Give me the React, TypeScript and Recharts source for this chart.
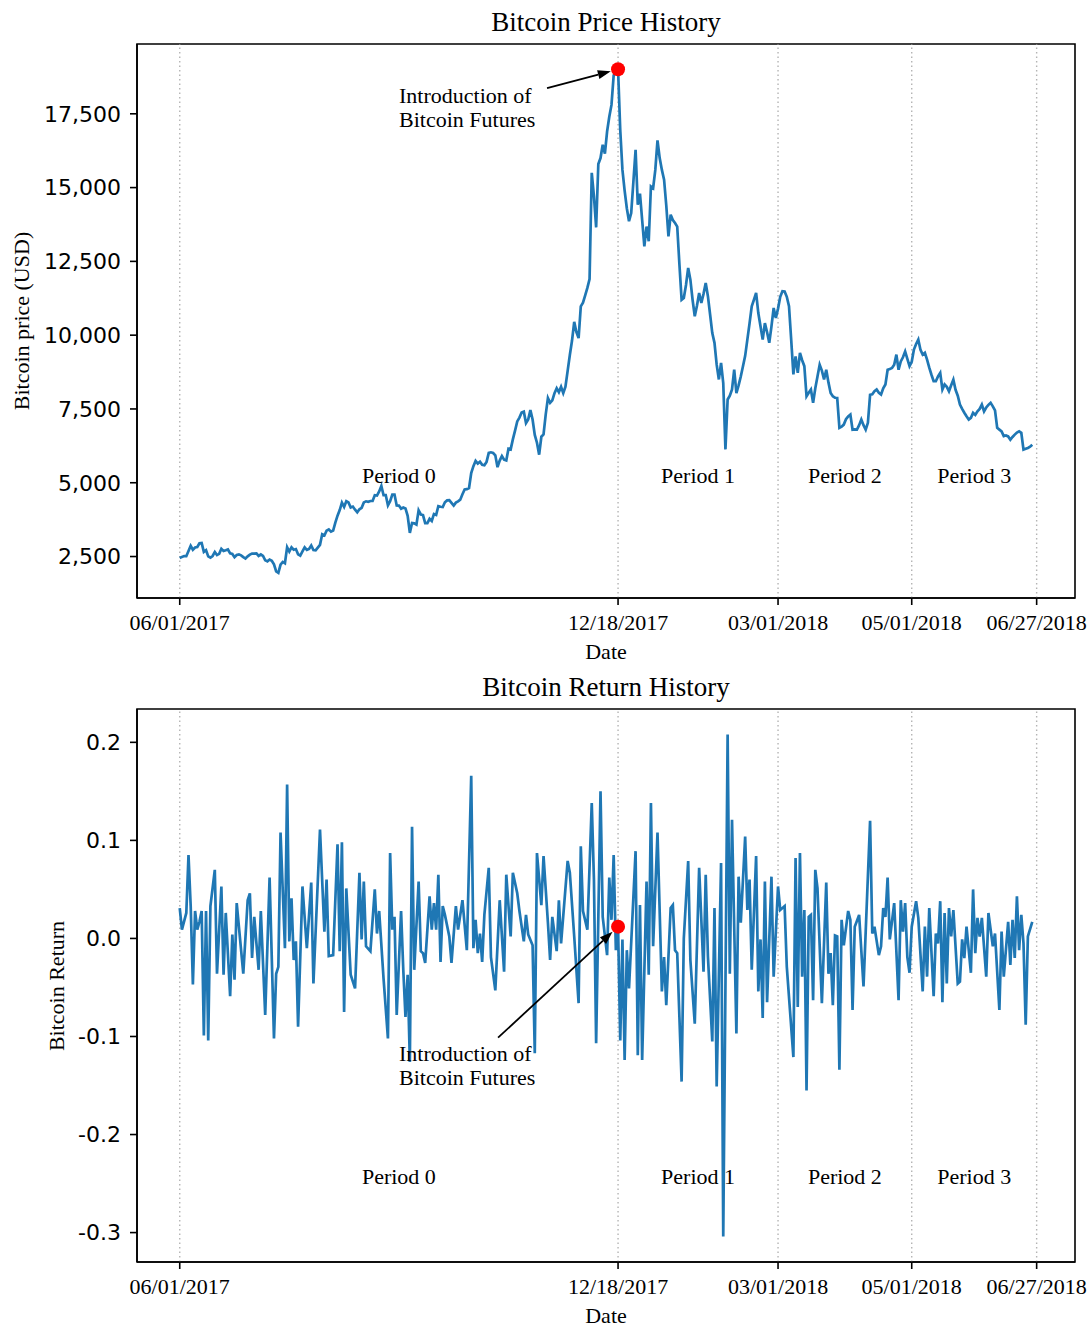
import React from 'react';
import { LineChart, Line, XAxis, YAxis, ReferenceLine, ReferenceDot, ReferenceArea } from 'recharts';

const SERIF = '"Liberation Serif", "Times New Roman", serif';
const SANS = '"DejaVu Sans", sans-serif';

// Daily closing price, day 0 = 06/01/2017
const PRICES = [
  2450, 2488, 2515, 2511, 2686, 2863, 2732, 2805, 2823, 2947,
  2958, 2659, 2717, 2506, 2464, 2518, 2655, 2549, 2590, 2761,
  2691, 2710, 2739, 2608, 2589, 2478, 2552, 2574, 2539, 2481,
  2434, 2507, 2564, 2601, 2601, 2608, 2519, 2571, 2518, 2373,
  2337, 2398, 2358, 2233, 1998, 1950, 2228, 2318, 2273, 2817,
  2667, 2810, 2731, 2754, 2576, 2529, 2671, 2809, 2726, 2757,
  2875, 2718, 2710, 2804, 2895, 3252, 3213, 3378, 3419, 3342,
  3381, 3650, 3884, 4073, 4325, 4182, 4376, 4331, 4160, 4193,
  4087, 4001, 4100, 4151, 4334, 4371, 4352, 4382, 4382, 4579,
  4565, 4703, 4892, 4578, 4582, 4236, 4376, 4597, 4599, 4228,
  4226, 4122, 4162, 4130, 3882, 3300, 3637, 3625, 3582, 4065,
  3924, 3905, 3631, 3631, 3776, 3703, 3942, 3910, 4208, 4185,
  4174, 4338, 4403, 4409, 4317, 4229, 4328, 4370, 4426, 4610,
  4772, 4782, 4819, 5325, 5563, 5739, 5648, 5711, 5605, 5590,
  5708, 6011, 6031, 6008, 5930, 5527, 5750, 5904, 5780, 5753,
  6154, 6130, 6468, 6767, 7078, 7207, 7379, 7407, 7022, 7144,
  7459, 7143, 6618, 6357, 5950, 6559, 6635, 7315, 7871, 7708,
  7790, 8036, 8200, 8071, 8253, 8038, 8253, 8790, 9330, 9818,
  10450, 10100, 9900, 10975, 11100, 11350, 11600, 11900, 15500, 14700,
  13650, 15800, 16000, 16450, 16150, 16900, 17400, 17800, 18800, 18950,
  19010, 16950, 15600, 14900, 14300, 13860, 14140, 15200, 16280, 14420,
  14800, 13900, 13010, 13680, 13180, 15040, 14980, 15600, 16600, 16000,
  15600, 15270, 14400, 13350, 14080, 13900, 13800, 13680, 12400, 11200,
  11260, 11700, 12280, 11880, 11200, 10640, 11000, 11430, 11090, 11400,
  11770, 11320, 10700, 10070, 9740, 9000, 8500, 9060, 8380, 6130,
  7820, 7950, 8160, 8830, 8040, 8300, 8600, 8950, 9300, 9850,
  10400, 10980, 11200, 11430, 10750, 10300, 9850, 10410, 10100, 9740,
  10300, 10920, 10580, 10900, 11300, 11490, 11480, 11300, 10980, 9850,
  8670, 9280, 8720, 9400, 9150, 8950, 7930, 8050, 8160, 7710,
  8200, 8600, 9000, 8800, 8500, 8830, 8400, 8040, 7930, 7880,
  7870, 6860, 6900, 6970, 7150, 7250, 7310, 6800, 6810, 6800,
  6950, 7140, 6950, 6800, 7030, 7980, 8000, 8100, 8160, 8050,
  7990, 8200, 8330, 8830, 8850, 8890, 9000, 9340, 8830, 9110,
  9250, 9450, 9200, 8950, 9100, 9510, 9700, 9850, 9500, 9340,
  9400, 9170, 8900, 8660, 8440, 8440, 8600, 8720, 8160, 8330,
  8250, 8100, 8300, 8490, 8150, 7950, 7650, 7500, 7370, 7250,
  7140, 7200, 7370, 7300, 7420, 7500, 7650, 7420, 7550, 7640,
  7710, 7590, 7450, 6860, 6800, 6740, 6580, 6600, 6570, 6460,
  6550, 6630, 6700, 6740, 6690, 6120, 6150, 6180, 6220, 6290,
];

// Daily return (day index, value)
const RETURN_DAYS = [
  0, 1, 3, 4, 5, 6, 7, 8, 9, 10, 11, 12, 13, 14, 16, 17, 19, 20, 21, 23,
  24, 25, 26, 29, 31, 32, 33, 34, 36, 37, 39, 41, 43, 44, 45, 46, 48, 49, 50, 51,
  52, 53, 54, 56, 58, 60, 61, 64, 66, 67, 68, 70, 72, 73, 74, 75, 76, 78, 80, 82,
  83, 84, 85, 87, 89, 90, 91, 93, 95, 96, 97, 98, 99, 101, 102, 103, 104, 105, 106, 107,
  109, 110, 111, 112, 114, 115, 116, 117, 118, 119, 120, 121, 123, 124, 126, 127, 129, 131, 133, 134,
  135, 136, 137, 138, 139, 141, 142, 144, 146, 148, 149, 151, 152, 154, 155, 157, 158, 159, 161, 162,
  163, 165, 166, 168, 169, 170, 172, 173, 174, 177, 178, 180, 182, 183, 184, 186, 188, 189, 190, 192,
  193, 195, 196, 197, 198, 199, 200, 201, 202, 203, 204, 205, 208, 209, 210, 211, 213, 214, 215, 216,
  218, 220, 221, 222, 224, 225, 226, 227, 229, 230, 232, 233, 235, 237, 239, 240, 241, 243, 244, 245,
  247, 248, 250, 251, 252, 254, 255, 256, 258, 259, 260, 261, 263, 264, 265, 266, 267, 268, 270, 271,
  273, 274, 276, 277, 280, 281, 282, 283, 284, 285, 286, 287, 288, 289, 290, 291, 293, 295, 296, 297,
  298, 299, 300, 301, 302, 303, 305, 306, 307, 308, 310, 312, 313, 315, 316, 317, 319, 320, 321, 322,
  323, 324, 326, 328, 329, 330, 331, 332, 333, 334, 336, 337, 339, 340, 341, 342, 344, 345, 346, 347,
  348, 349, 350, 351, 352, 353, 355, 356, 357, 358, 359, 361, 362, 363, 364, 365, 366, 368, 369, 371,
  372, 374, 375, 376, 378, 379, 380, 381, 382, 383, 384, 385, 386, 387, 389,
];
const RETURN_VALUES = [
  0.031, 0.009, 0.026, 0.085, 0.033, -0.047, 0.028, 0.009, 0.017, 0.028, -0.099, 0.028, -0.104, 0.033, 0.07, -0.036, 0.053, -0.037, 0.026, -0.059,
  0.004, -0.042, 0.036, -0.036, 0.039, 0.046, -0.02, 0.022, -0.032, 0.028, -0.078, 0.062, -0.102, -0.036, -0.029, 0.108, -0.01, 0.157, -0.003, 0.041,
  -0.022, -0.003, -0.09, 0.053, -0.01, 0.057, -0.046, 0.111, 0.007, 0.06, -0.018, -0.017, 0.096, -0.013, 0.098, -0.075, 0.051, -0.037, -0.051, 0.067,
  -0.001, 0.058, -0.008, -0.013, 0.05, 0.005, 0.028, -0.041, -0.102, 0.087, 0.009, 0.022, -0.078, 0.028, -0.032, -0.08, -0.037, -0.126, 0.114, -0.032,
  0.058, -0.013, -0.015, -0.025, 0.043, 0.009, 0.036, 0.009, 0.065, -0.024, 0.033, 0.024, 0.002, -0.025, 0.033, 0.009, 0.039, -0.012, 0.166, -0.01,
  0.019, -0.015, 0.005, -0.024, 0.024, 0.072, -0.019, -0.053, 0.039, -0.034, 0.065, 0.002, 0.067, 0.046, 0.028, -0.003, 0.024, 0.004, -0.007, -0.117,
  0.087, 0.034, 0.084, 0.016, -0.022, 0.022, -0.013, 0.039, -0.005, 0.079, 0.067, 0.002, -0.066, 0.094, 0.028, 0.009, 0.138, 0.06, -0.107, 0.15,
  0.022, -0.017, 0.062, 0.019, 0.085, -0.012, 0.012, -0.104, -0.001, -0.124, -0.012, -0.051, 0.089, -0.119, 0.034, -0.124, 0.058, -0.037, 0.138, -0.008,
  0.108, -0.054, -0.019, -0.068, 0.031, 0.034, -0.012, -0.015, -0.146, 0.0, 0.079, -0.022, -0.087, 0.072, -0.034, 0.065, -0.018, -0.105, 0.031, -0.151,
  0.077, -0.304, 0.208, -0.036, 0.121, -0.097, 0.063, 0.016, 0.104, 0.029, 0.06, -0.032, 0.084, -0.054, -0.001, -0.081, 0.058, -0.065, 0.063, -0.039,
  0.053, 0.029, 0.033, -0.029, -0.121, 0.082, -0.07, 0.087, -0.039, 0.029, -0.155, 0.022, 0.024, -0.063, 0.07, 0.051, -0.066, 0.057, -0.036, -0.015,
  -0.068, 0.003, 0.002, -0.134, 0.019, -0.007, 0.028, 0.019, -0.073, 0.012, 0.024, -0.049, 0.007, 0.12, 0.005, 0.012, -0.017, -0.008, 0.031, 0.022,
  0.062, -0.001, 0.036, -0.063, 0.039, 0.007, 0.036, -0.019, -0.035, 0.012, 0.038, 0.021, -0.054, 0.012, -0.039, 0.031, -0.059, 0.005, -0.005, 0.038,
  -0.065, 0.026, -0.046, 0.031, 0.002, 0.029, -0.046, -0.044, -0.001, -0.02, 0.012, -0.035, 0.05, -0.015, 0.021, 0.002, 0.021, -0.039, 0.026, -0.008,
  0.005, -0.073, 0.007, -0.039, 0.017, -0.027, 0.019, -0.02, 0.043, -0.012, 0.024, -0.005, -0.088, 0.002, 0.017,
];

const DATE_TICK_DAYS = [0, 200, 273, 334, 391];
const DATE_TICK_LABELS = ['06/01/2017', '12/18/2017', '03/01/2018', '05/01/2018', '06/27/2018'];
const PRICE_TICKS = [2500, 5000, 7500, 10000, 12500, 15000, 17500];
const RETURN_TICKS = [-0.3, -0.2, -0.1, 0, 0.1, 0.2];
const PERIOD_NAMES = ['Period 0', 'Period 1', 'Period 2', 'Period 3'];
const PERIOD_CENTER_DAYS = [100, 236.5, 303.5, 362.5];
const PERIOD_PRICE_LEVEL = 5000;
const PERIOD_RETURN_LEVEL = -0.25;
const FUTURES_DAY = 200;
const FUTURES_PRICE = 19010;
const FUTURES_RETURN = 0.012;

const X_DOMAIN: [number, number] = [-19.5, 408.5];
const PRICE_DOMAIN: [number, number] = [1095, 19865];
const RETURN_DOMAIN: [number, number] = [-0.33, 0.234];

const priceTable = PRICES.map((p, i) => ({ day: i, price: p }));
const returnTable = RETURN_DAYS.map((d, i) => ({ day: d, ret: RETURN_VALUES[i] }));

const LINE_COLOR = '#1f77b4';
const W = 1092;
const H1 = 665;
const H2 = 664;
const MARGIN = { top: 44, right: 17, bottom: 37, left: 57 };

const fmtDate = (v: number) => {
  const i = DATE_TICK_DAYS.indexOf(v);
  return i >= 0 ? DATE_TICK_LABELS[i] : '';
};
const fmtPrice = (v: number) => v.toLocaleString('en-US');
const fmtRet = (v: number) => (Math.abs(v) < 1e-9 ? '0.0' : v.toFixed(1));

const periodShape = (name: string) => (p: any) => (
  <text x={p.cx} y={p.cy} textAnchor="middle" fontFamily={SERIF} fontSize={22} fill="#000">
    {name}
  </text>
);

const futuresShape = (textDx: number, textDy: number, tailDx: number, tailDy: number) => (p: any) => {
  const cx = p.cx;
  const cy = p.cy;
  const tx = cx + tailDx;
  const ty = cy + tailDy;
  const ang = Math.atan2(cy - ty, cx - tx);
  const tipX = cx - Math.cos(ang) * 7.5;
  const tipY = cy - Math.sin(ang) * 7.5;
  const headLen = 13;
  const headW = 4.5;
  const bx = tipX - Math.cos(ang) * headLen;
  const by = tipY - Math.sin(ang) * headLen;
  const px = -Math.sin(ang) * headW;
  const py = Math.cos(ang) * headW;
  return (
    <g>
      <line x1={tx} y1={ty} x2={bx} y2={by} stroke="#000" strokeWidth={1.8} />
      <polygon points={`${tipX},${tipY} ${bx + px},${by + py} ${bx - px},${by - py}`} fill="#000" />
      <circle cx={cx} cy={cy} r={7} fill="#ff0000" />
      <text x={cx + textDx} y={cy + textDy} fontFamily={SERIF} fontSize={22} fill="#000">
        <tspan x={cx + textDx}>Introduction of</tspan>
        <tspan x={cx + textDx} dy={24}>Bitcoin Futures</tspan>
      </text>
    </g>
  );
};

const axisLine = { stroke: '#000', strokeWidth: 1.6 };
const tickLine = { stroke: '#000', strokeWidth: 1.6 };

function Panel(props: {
  height: number;
  data: any[];
  dataKey: string;
  yDomain: [number, number];
  yTicks: number[];
  yFmt: (v: number) => string;
  periodLevel: number;
  futuresValue: number;
  futures: (p: any) => any;
}) {
  const { height, data, dataKey, yDomain, yTicks, yFmt, periodLevel, futuresValue, futures } = props;
  return (
    <LineChart width={W} height={height} data={data} margin={MARGIN}>
      <XAxis
        dataKey="day"
        type="number"
        domain={X_DOMAIN}
        allowDataOverflow
        ticks={DATE_TICK_DAYS}
        interval={0}
        tickFormatter={fmtDate}
        height={30}
        tickSize={7}
        tickMargin={9}
        axisLine={axisLine}
        tickLine={tickLine}
        tick={{ fontFamily: SERIF, fontSize: 22, fill: '#000' }}
      />
      <YAxis
        type="number"
        domain={yDomain}
        allowDataOverflow
        ticks={yTicks}
        interval={0}
        tickFormatter={yFmt}
        width={80}
        tickSize={7}
        tickMargin={9}
        axisLine={axisLine}
        tickLine={tickLine}
        tick={{ fontFamily: SANS, fontSize: 22, fill: '#000' }}
      />
      {DATE_TICK_DAYS.map((d) => (
        <ReferenceLine key={d} x={d} stroke="#b4b4b4" strokeWidth={1.4} strokeDasharray="1.5 3" />
      ))}
      <Line
        type="linear"
        dataKey={dataKey}
        stroke={LINE_COLOR}
        strokeWidth={2.7}
        dot={false}
        activeDot={false}
        isAnimationActive={false}
      />
      <ReferenceArea
        x1={X_DOMAIN[0]}
        x2={X_DOMAIN[1]}
        y1={yDomain[0]}
        y2={yDomain[1]}
        fill="none"
        fillOpacity={0}
        stroke="#000"
        strokeWidth={1.6}
        ifOverflow="visible"
      />
      {PERIOD_NAMES.map((n, i) => (
        <ReferenceDot key={n} x={PERIOD_CENTER_DAYS[i]} y={periodLevel} r={1} shape={periodShape(n)} />
      ))}
      <ReferenceDot x={FUTURES_DAY} y={futuresValue} r={7} shape={futures} ifOverflow="visible" />
    </LineChart>
  );
}

export default function App() {
  return (
    <div style={{ position: 'absolute', left: 0, top: 0, width: W, height: H1 + H2, background: '#fff', overflow: 'hidden' }}>
      <div style={{ position: 'absolute', left: 0, top: 0 }}>
        <Panel
          height={H1}
          data={priceTable}
          dataKey="price"
          yDomain={PRICE_DOMAIN}
          yTicks={PRICE_TICKS}
          yFmt={fmtPrice}
          periodLevel={PERIOD_PRICE_LEVEL}
          futuresValue={FUTURES_PRICE}
          futures={futuresShape(-219, 34, -71, 19)}
        />
      </div>
      <div style={{ position: 'absolute', left: 0, top: H1 }}>
        <Panel
          height={H2}
          data={returnTable}
          dataKey="ret"
          yDomain={RETURN_DOMAIN}
          yTicks={RETURN_TICKS}
          yFmt={fmtRet}
          periodLevel={PERIOD_RETURN_LEVEL}
          futuresValue={FUTURES_RETURN}
          futures={futuresShape(-219, 134, -120, 111)}
        />
      </div>
      <svg width={W} height={H1 + H2} style={{ position: 'absolute', left: 0, top: 0, pointerEvents: 'none' }}>
        <g fontFamily={SERIF} fill="#000">
          <text x={606} y={31} textAnchor="middle" fontSize={27}>Bitcoin Price History</text>
          <text x={606} y={659} textAnchor="middle" fontSize={22}>Date</text>
          <text transform="translate(29,321) rotate(-90)" textAnchor="middle" fontSize={22}>Bitcoin price (USD)</text>
          <text x={606} y={696} textAnchor="middle" fontSize={27}>Bitcoin Return History</text>
          <text x={606} y={1323} textAnchor="middle" fontSize={22}>Date</text>
          <text transform="translate(64,986) rotate(-90)" textAnchor="middle" fontSize={22}>Bitcoin Return</text>
        </g>
      </svg>
    </div>
  );
}
